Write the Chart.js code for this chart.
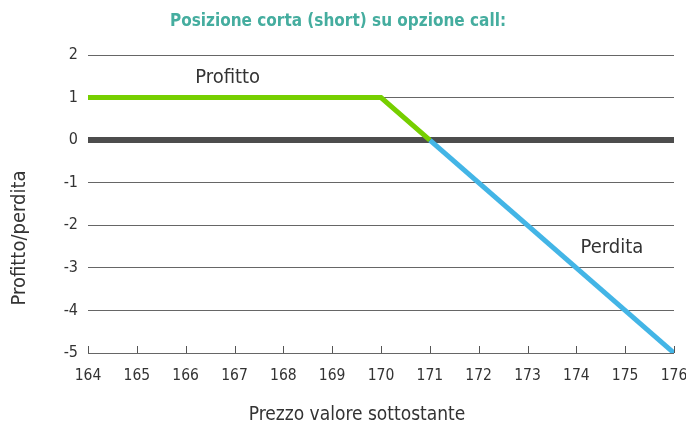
<!DOCTYPE html>
<html>
<head>
<meta charset="utf-8">
<script src="https://cdn.jsdelivr.net/npm/chart.js@4/dist/chart.umd.min.js"></script>
<style>
  html, body { margin: 0; padding: 0; background: #fff; }
  #wrap { width: 686px; height: 426px; }
</style>
</head>
<body>
<div id="wrap"><canvas id="payoffChart"></canvas></div>
<script>
const FONT = '"DejaVu Sans Condensed", "Noto Sans", sans-serif';

const profitX = [164, 170, 171];
const profitY = [1, 1, 0];
const lossX = [171, 176];
const lossY = [0, -5];
const xTicks = [164, 165, 166, 167, 168, 169, 170, 171, 172, 173, 174, 175, 176];

const toPoints = (xs, ys) => xs.map((x, i) => ({ x: x, y: ys[i] }));

// title, axis titles, curve labels and the small upward ticks on the bottom line
const extras = {
    id: 'extras',
    afterDraw(chart) {
        const { ctx, scales: { x, y } } = chart;
        ctx.save();
        ctx.textAlign = 'center';
        ctx.textBaseline = 'middle';

        ctx.fillStyle = '#45ad9f';
        ctx.font = 'bold 17px ' + FONT;
        ctx.fillText('Posizione corta (short) su opzione call:', 338, 22);

        ctx.fillStyle = '#333';
        ctx.font = '20px ' + FONT;
        ctx.fillText('Profitto', x.getPixelForValue(166.86), y.getPixelForValue(1.46));
        ctx.fillText('Perdita', x.getPixelForValue(174.73), y.getPixelForValue(-2.54));
        ctx.font = '19px ' + FONT;
        ctx.fillText('Prezzo valore sottostante', 357, 415);

        ctx.font = '20px ' + FONT;
        ctx.translate(20, 238);
        ctx.rotate(-Math.PI / 2);
        ctx.fillText('Profitto/perdita', 0, 0);
        ctx.setTransform(1, 0, 0, 1, 0, 0);

        ctx.strokeStyle = '#555';
        ctx.lineWidth = 1;
        const base = y.getPixelForValue(-5);
        xTicks.forEach(v => {
            const px = Math.round(x.getPixelForValue(v)) + 0.5;
            ctx.beginPath();
            ctx.moveTo(px, base);
            ctx.lineTo(px, base - 7);
            ctx.stroke();
        });
        ctx.restore();
    }
};

const config = {
    type: 'scatter',
    data: {
        datasets: [
            {
                data: toPoints(profitX, profitY),
                showLine: true,
                borderColor: '#76cf00',
                borderWidth: 5,
                pointRadius: 0,
                borderCapStyle: 'butt',
            },
            {
                data: toPoints(lossX, lossY),
                showLine: true,
                borderColor: '#43b5e6',
                borderWidth: 5,
                pointRadius: 0,
                borderCapStyle: 'butt',
            },
        ],
    },
    options: {
        responsive: true,
        maintainAspectRatio: false,
        animation: false,
        layout: { padding: { top: 55, right: 12, left: 0, bottom: 0 } },
        plugins: {
            legend: { display: false },
            tooltip: { enabled: false },
        },
        scales: {
            x: {
                type: 'linear',
                min: 164,
                max: 176,
                afterBuildTicks: (axis) => { axis.ticks = xTicks.map(v => ({ value: v })); },
                grid: { display: false },
                border: { display: false },
                ticks: { color: '#333', font: { family: FONT, size: 15.5 }, padding: 6 },
                afterFit: (axis) => {
                    axis.height = 73;
                    axis.paddingLeft = 0;
                    axis.paddingRight = 0;
                },
            },
            y: {
                min: -5,
                max: 2,
                ticks: { stepSize: 1, color: '#333', font: { family: FONT, size: 16 }, padding: 10 },
                grid: {
                    drawTicks: false,
                    color: (c) => c.tick && c.tick.value === 0 ? '#4d4d4d' : '#666',
                    lineWidth: (c) => c.tick && c.tick.value === 0 ? 6 : 1,
                },
                border: { display: false },
                afterFit: (axis) => {
                    axis.width = 88;
                    axis.paddingTop = 0;
                    axis.paddingBottom = 0;
                },
            },
        },
    },
    plugins: [extras],
};

new Chart(document.getElementById('payoffChart'), config);
</script>
</body>
</html>
